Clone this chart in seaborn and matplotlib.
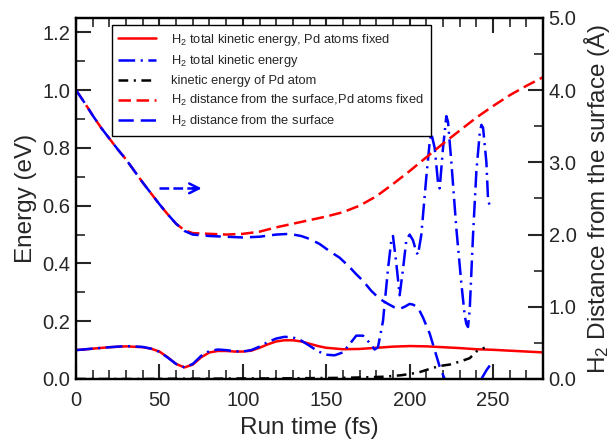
import matplotlib
matplotlib.use('Agg')
import matplotlib.pyplot as plt
import seaborn as sns
import pandas as pd
from matplotlib.ticker import MultipleLocator, FormatStrFormatter

# H2 total kinetic energy, Pd atoms fixed (eV)
t_ke_fixed = [0, 10, 20, 30, 40, 45, 50, 55, 60, 65, 70, 75, 80, 85, 90, 95, 100, 105,
              110, 115, 120, 125, 130, 135, 140, 145, 150, 160, 170, 180, 190, 200, 210,
              220, 230, 240, 250, 260, 270, 280]
ke_fixed = [0.100, 0.105, 0.110, 0.113, 0.110, 0.105, 0.095, 0.075, 0.052, 0.040, 0.050,
            0.075, 0.092, 0.097, 0.097, 0.095, 0.095, 0.098, 0.108, 0.120, 0.130, 0.134,
            0.134, 0.130, 0.122, 0.114, 0.108, 0.103, 0.104, 0.108, 0.112, 0.114, 0.113,
            0.110, 0.107, 0.103, 0.101, 0.098, 0.095, 0.092]

# H2 total kinetic energy (eV)
t_ke = [0, 10, 20, 30, 40, 45, 50, 55, 60, 65, 70, 75, 80, 85, 90, 95, 100, 105, 110, 115,
        120, 125, 130, 135, 140, 145, 150, 155, 160, 165, 168, 172, 176, 179, 181, 184, 187,
        189, 190, 192, 194, 196, 198, 200, 202, 204, 205, 207, 210, 212, 213, 215, 217, 218,
        220, 222, 223, 225, 228, 231, 233, 234, 235, 236, 238, 240, 242, 243, 244, 246, 247,
        248]
ke = [0.100, 0.105, 0.110, 0.114, 0.111, 0.105, 0.094, 0.074, 0.052, 0.040, 0.052, 0.080,
      0.097, 0.102, 0.100, 0.096, 0.095, 0.100, 0.112, 0.128, 0.140, 0.146, 0.144, 0.133,
      0.115, 0.096, 0.084, 0.082, 0.092, 0.128, 0.150, 0.150, 0.125, 0.102, 0.110, 0.200,
      0.380, 0.480, 0.495, 0.400, 0.290, 0.380, 0.480, 0.500, 0.480, 0.440, 0.430, 0.500,
      0.700, 0.820, 0.850, 0.800, 0.680, 0.660, 0.800, 0.910, 0.890, 0.750, 0.520, 0.330,
      0.220, 0.190, 0.180, 0.240, 0.500, 0.720, 0.850, 0.880, 0.870, 0.750, 0.620, 0.600]

# kinetic energy of Pd atom (eV)
t_pd = [0, 20, 40, 60, 80, 100, 120, 140, 160, 175, 185, 195, 205, 212, 218, 224, 230,
        236, 240, 243, 245]
ke_pd = [0.0, 0.0, 0.0, 0.001, 0.001, 0.002, 0.002, 0.003, 0.004, 0.006, 0.008, 0.013,
         0.022, 0.035, 0.045, 0.050, 0.060, 0.072, 0.095, 0.105, 0.108]

# H2 distance from the surface, Pd atoms fixed (A)
t_d_fixed = [0, 5, 10, 15, 20, 25, 30, 35, 40, 45, 50, 55, 60, 65, 70, 80, 90, 100, 110,
             120, 130, 140, 150, 160, 170, 180, 190, 200, 210, 220, 230, 240, 250, 260,
             270, 280]
d_fixed = [4.00, 3.83, 3.65, 3.48, 3.33, 3.18, 3.04, 2.88, 2.72, 2.57, 2.42, 2.28, 2.15,
           2.06, 2.02, 2.01, 2.00, 2.01, 2.04, 2.10, 2.15, 2.20, 2.25, 2.31, 2.40, 2.53,
           2.70, 2.88, 3.07, 3.26, 3.44, 3.62, 3.78, 3.93, 4.06, 4.18]

# H2 distance from the surface (A)
t_d = [0, 5, 10, 15, 20, 25, 30, 35, 40, 45, 50, 55, 60, 65, 70, 80, 90, 100, 110, 120,
       128, 135, 140, 146, 152, 158, 164, 168, 172, 177, 182, 187, 191, 194, 197, 200, 202,
       205, 208, 212, 215, 218, 221, 225, 232, 238, 243, 246, 250]
d = [4.00, 3.83, 3.65, 3.48, 3.33, 3.18, 3.04, 2.88, 2.72, 2.57, 2.42, 2.28, 2.15, 2.05,
     2.00, 1.98, 1.97, 1.96, 1.97, 2.00, 2.01, 1.98, 1.94, 1.87, 1.77, 1.68, 1.55, 1.45,
     1.36, 1.22, 1.11, 1.04, 0.99, 0.97, 1.00, 1.04, 1.03, 0.99, 0.85, 0.63, 0.40, 0.17,
     0.0, -0.3, -0.5, -0.3, 0.0, 0.12, 0.25]

labels = ['H$_2$ total kinetic energy, Pd atoms fixed',
          'H$_2$ total kinetic energy',
          'kinetic energy of Pd atom',
          'H$_2$ distance from the surface,Pd atoms fixed',
          'H$_2$ distance from the surface']

sns.set_style('ticks')
plt.rcParams['font.family'] = ['Liberation Sans', 'DejaVu Sans']
plt.rcParams['mathtext.fontset'] = 'custom'
plt.rcParams['mathtext.rm'] = 'Liberation Sans'
plt.rcParams['mathtext.it'] = 'Liberation Sans:italic'
plt.rcParams['lines.scale_dashes'] = False

fig = plt.figure(figsize=(6.13, 4.43), dpi=100)
ax = fig.add_axes([0.124, 0.1445, 0.762, 0.815])
ax2 = ax.twinx()

lw = 1.8
sns.lineplot(x=t_ke_fixed, y=ke_fixed, ax=ax, color='#ff0000', lw=lw, label=labels[0], legend=False)
sns.lineplot(x=t_ke, y=ke, ax=ax, color='#0000ff', lw=lw, linestyle=(0, (12, 4, 1.5, 4)),
             label=labels[1], legend=False)
sns.lineplot(x=t_pd, y=ke_pd, ax=ax, color='black', lw=lw, linestyle=(0, (7, 4, 1.5, 4)),
             label=labels[2], legend=False)
sns.lineplot(x=t_d_fixed, y=d_fixed, ax=ax2, color='#ff0000', lw=lw, linestyle=(0, (9, 4)),
             label=labels[3], legend=False)
sns.lineplot(x=t_d, y=d, ax=ax2, color='#0000ff', lw=lw, linestyle=(0, (11, 5)),
             label=labels[4], legend=False)

# arrow pointing to right axis
ax.plot([50, 72], [0.66, 0.66], color='#0000ff', lw=lw, linestyle=(0, (7, 3)))
ax.annotate('', xy=(77, 0.66), xytext=(68, 0.66),
            arrowprops=dict(arrowstyle='->,head_length=0.7,head_width=0.35',
                            color='#0000ff', lw=lw))

ax.set_xlim(0, 280)
ax.set_ylim(0, 1.25)
ax2.set_ylim(0, 5.0)
ax.xaxis.set_major_locator(MultipleLocator(50))
ax.xaxis.set_minor_locator(MultipleLocator(10))
ax.set_xticks([0, 50, 100, 150, 200, 250])
ax.yaxis.set_major_locator(MultipleLocator(0.2))
ax.yaxis.set_minor_locator(MultipleLocator(0.1))
ax.yaxis.set_major_formatter(FormatStrFormatter('%.1f'))
ax2.yaxis.set_major_locator(MultipleLocator(1.0))
ax2.yaxis.set_minor_locator(MultipleLocator(0.5))
ax2.yaxis.set_major_formatter(FormatStrFormatter('%.1f'))

for a in (ax, ax2):
    for s in a.spines.values():
        s.set_linewidth(1.6)
        s.set_color('black')
ax.tick_params(axis='x', which='both', direction='in', top=True, labelsize=14.5, pad=9)
ax.tick_params(axis='y', which='both', direction='in', right=False, labelsize=14.5, pad=4)
ax2.tick_params(axis='y', which='both', direction='in', labelsize=14.5, pad=4)
for a in (ax, ax2):
    a.tick_params(which='major', length=10.5, width=1.5)
    a.tick_params(which='minor', length=6.5, width=1.2)

ax.set_xlabel('Run time (fs)', fontsize=17.5, labelpad=5)
ax.set_ylabel('Energy (eV)', fontsize=17.5, labelpad=4)
ax2.set_ylabel('H$_2$ Distance from the surface (Å)', fontsize=17.5, labelpad=4)

handles = ax.get_lines()[:3] + ax2.get_lines()[:2]
leg = ax2.legend(handles, labels, loc='upper left', bbox_to_anchor=(0.077, 0.98),
                 borderaxespad=0, fontsize=9.3, frameon=True, fancybox=False,
                 edgecolor='black', framealpha=1, handlelength=2.9, handletextpad=1.2,
                 labelspacing=0.45, borderpad=0.5)
leg.get_frame().set_linewidth(1.0)

plt.savefig('out.png', dpi=100)
